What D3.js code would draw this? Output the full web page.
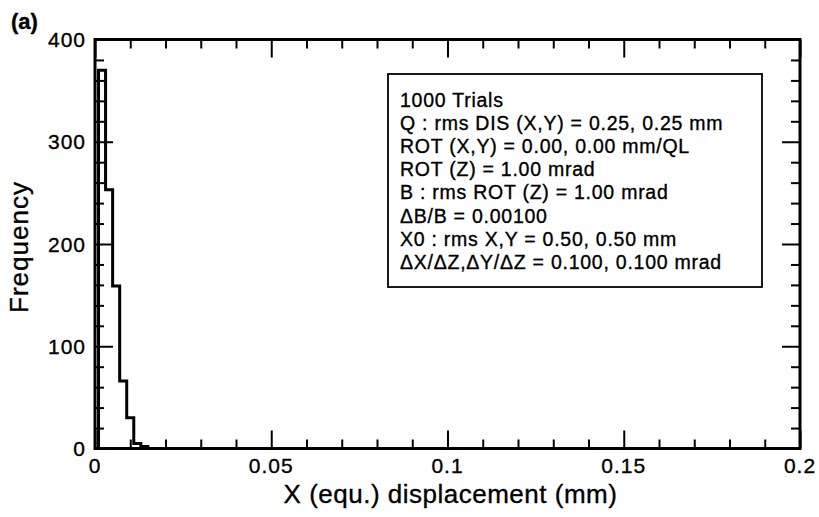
<!DOCTYPE html>
<html>
<head>
<meta charset="utf-8">
<script src="https://cdn.jsdelivr.net/npm/d3@7/dist/d3.min.js"></script>
<style>
  html, body { margin: 0; padding: 0; background: #fff; }
  svg { display: block; }
  text { font-family: "Liberation Sans", Arial, Helvetica, sans-serif; fill: #000; stroke: #000; stroke-width: 0.35px; }
</style>
</head>
<body>
<svg id="chart" width="819" height="517"></svg>
<script>
// Histogram of X (equ.) displacement over 1000 trials
const binEdges = [0.001, 0.003, 0.005, 0.007, 0.009, 0.011, 0.013, 0.015];
const binCounts = [370, 253, 159, 66, 30, 5, 2];

const xMajorTicks = [0, 0.05, 0.1, 0.15, 0.2];
const xTickLabels = ["0", "0.05", "0.1", "0.15", "0.2"];
const yMajorTicks = [0, 100, 200, 300, 400];
const yTickLabels = ["0", "100", "200", "300", "400"];

const xTitle = "X (equ.) displacement (mm)";
const yTitle = "Frequency";
const panelTag = "(a)";

const legendLines = [
  "1000 Trials",
  "Q : rms DIS (X,Y) = 0.25, 0.25 mm",
  "ROT (X,Y) = 0.00, 0.00 mm/QL",
  "ROT (Z) = 1.00 mrad",
  "B : rms ROT (Z) = 1.00 mrad",
  "\u0394B/B = 0.00100",
  "X0 : rms X,Y = 0.50, 0.50 mm",
  "\u0394X/\u0394Z,\u0394Y/\u0394Z = 0.100, 0.100 mrad"
];

const svg = d3.select("#chart");
const plot = { left: 95, right: 800, top: 39.5, bottom: 448.5 };

const x = d3.scaleLinear().domain([0, 0.2]).range([plot.left, plot.right]);
const y = d3.scaleLinear().domain([0, 400]).range([plot.bottom, plot.top]);

const majorLen = 18, minorLen = 9;
const xMinor = d3.range(0, 0.2001, 0.01).filter(v => xMajorTicks.every(m => Math.abs(m - v) > 1e-9));
const yMinor = d3.range(0, 400.1, 20).filter(v => yMajorTicks.indexOf(v) < 0);

function tickAxis(gen, scale, values, len, transform) {
  const g = svg.append("g")
    .attr("transform", transform)
    .call(gen(scale).tickValues(values).tickSize(-len).tickSizeOuter(0).tickFormat(""));
  g.select(".domain").remove();
  g.selectAll(".tick line").attr("stroke", "#000").attr("stroke-width", 2);
  return g;
}

// inward ticks on all four sides
tickAxis(d3.axisBottom, x, xMajorTicks, majorLen, `translate(0,${plot.bottom})`);
tickAxis(d3.axisBottom, x, xMinor, minorLen, `translate(0,${plot.bottom})`);
tickAxis(d3.axisTop, x, xMajorTicks, majorLen, `translate(0,${plot.top})`);
tickAxis(d3.axisTop, x, xMinor, minorLen, `translate(0,${plot.top})`);
tickAxis(d3.axisLeft, y, yMajorTicks, majorLen, `translate(${plot.left},0)`);
tickAxis(d3.axisLeft, y, yMinor, minorLen, `translate(${plot.left},0)`);
tickAxis(d3.axisRight, y, yMajorTicks, majorLen, `translate(${plot.right},0)`);
tickAxis(d3.axisRight, y, yMinor, minorLen, `translate(${plot.right},0)`);

// histogram outline
const pts = [[binEdges[0], 0]];
binCounts.forEach((c, i) => pts.push([binEdges[i], c]));
pts.push([binEdges[binEdges.length - 1], binCounts[binCounts.length - 1]]);
pts.push([binEdges[binEdges.length - 1], 0]);
const step = d3.line().x(d => x(d[0])).y(d => y(d[1])).curve(d3.curveStepAfter);
svg.append("path")
  .attr("d", step(pts))
  .attr("fill", "none")
  .attr("stroke", "#000")
  .attr("stroke-width", 3)
  .attr("stroke-linejoin", "miter");

// frame
svg.append("rect")
  .attr("x", plot.left).attr("y", plot.top)
  .attr("width", plot.right - plot.left).attr("height", plot.bottom - plot.top)
  .attr("fill", "none").attr("stroke", "#000").attr("stroke-width", 3);

// tick labels
const tickFont = 21;
svg.append("g").selectAll("text").data(xMajorTicks).join("text")
  .attr("x", d => x(d)).attr("y", plot.bottom + 24)
  .attr("text-anchor", "middle")
  .attr("font-size", tickFont).attr("letter-spacing", 1)
  .text((d, i) => xTickLabels[i]);

svg.append("g").selectAll("text").data(yMajorTicks).join("text")
  .attr("x", plot.left - 9).attr("y", d => y(d) + 7.5)
  .attr("text-anchor", "end")
  .attr("font-size", tickFont).attr("letter-spacing", 1)
  .text((d, i) => yTickLabels[i]);

// axis titles
svg.append("text")
  .attr("x", (plot.left + plot.right) / 2 + 3).attr("y", 503)
  .attr("text-anchor", "middle")
  .attr("font-size", 26).attr("letter-spacing", 0.5)
  .text(xTitle);

svg.append("text")
  .attr("transform", `translate(28,${(plot.top + plot.bottom) / 2 + 3}) rotate(-90)`)
  .attr("text-anchor", "middle")
  .attr("font-size", 26).attr("letter-spacing", 1)
  .text(yTitle);

svg.append("text")
  .attr("x", 11).attr("y", 29)
  .attr("font-size", 22).attr("font-weight", "bold")
  .text(panelTag);

// parameter box
const box = { x: 388, y: 74, w: 374, h: 213 };
svg.append("rect")
  .attr("x", box.x).attr("y", box.y).attr("width", box.w).attr("height", box.h)
  .attr("fill", "#fff").attr("stroke", "#000").attr("stroke-width", 1.8);

svg.append("g").selectAll("text").data(legendLines).join("text")
  .attr("x", box.x + 12)
  .attr("y", (d, i) => box.y + 33 + i * 23.1)
  .attr("font-size", 19.5).attr("letter-spacing", 0.75)
  .text(d => d);
</script>
</body>
</html>
